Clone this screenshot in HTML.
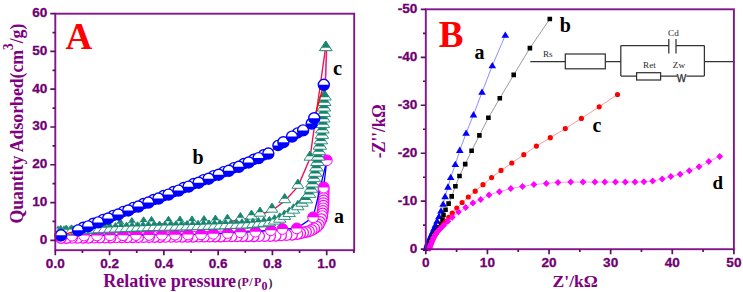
<!DOCTYPE html>
<html><head><meta charset="utf-8"><title>Figure</title>
<style>html,body{margin:0;padding:0;background:#fff;}body{width:743px;height:292px;overflow:hidden;font-family:"Liberation Sans",sans-serif;}svg{display:block;}</style>
</head><body>
<svg width="743" height="292" viewBox="0 0 743 292">
<rect width="743" height="292" fill="#fff"/>
<g id="data">
<path d="M505.3 35.2L492.3 65.7L482 92.2L473.5 114.8L466.1 133.2L459.8 150.3L455.3 164.5L450.7 177.5L448 187.1L445.1 196.6L443.1 204.2L441 211L439 216.5L437.1 221.12L435.42 225.19L433.94 228.77L432.63 231.92L431.42 234.66L430.35 237.07L429.42 239.2L428.66 241.1L427.99 242.76L427.45 244.25L427.14 245.61L426.88 246.8L426.64 247.85L426.5 248.5" stroke="#7070ff" stroke-width="0.8" fill="none"/>
<path d="M505.3 31.4l3.8 6.4h-7.6zM492.3 61.9l3.8 6.4h-7.6zM482 88.4l3.8 6.4h-7.6zM473.5 111l3.8 6.4h-7.6zM466.1 129.4l3.8 6.4h-7.6zM459.8 146.5l3.8 6.4h-7.6zM455.3 160.7l3.8 6.4h-7.6zM450.7 173.7l3.8 6.4h-7.6zM448 183.3l3.8 6.4h-7.6zM445.1 192.8l3.8 6.4h-7.6zM443.1 200.4l3.8 6.4h-7.6zM441 207.2l3.8 6.4h-7.6zM439 212.7l3.8 6.4h-7.6zM437.1 217.32l3.8 6.4h-7.6zM435.42 221.39l3.8 6.4h-7.6zM433.94 224.97l3.8 6.4h-7.6zM432.63 228.12l3.8 6.4h-7.6zM431.42 230.86l3.8 6.4h-7.6zM430.35 233.27l3.8 6.4h-7.6zM429.42 235.4l3.8 6.4h-7.6zM428.66 237.3l3.8 6.4h-7.6zM427.99 238.96l3.8 6.4h-7.6zM427.45 240.45l3.8 6.4h-7.6zM427.14 241.81l3.8 6.4h-7.6zM426.88 243l3.8 6.4h-7.6zM426.64 244.05l3.8 6.4h-7.6zM426.5 244.7l3.8 6.4h-7.6z" fill="#0000ff"/>
<path d="M549.8 19L529.9 48.1L513.7 74.9L499.8 98.2L488.4 117.8L479.4 135.4L471.6 150.8L465.2 164.1L459.5 176L455.4 186.3L451.7 196.4L448.6 203.6L445.5 209.7L443.5 215L442.52 219.9L441.06 223.98L438.97 227.24L436.99 230.01L435.24 232.44L433.88 234.7L432.71 236.71L431.87 238.57L431.13 240.21L430.53 241.67L430.01 242.97L429.56 244.11L429.23 245.13L428.99 246.05L428.78 246.86L428.59 247.57L428.43 248.19" stroke="#808080" stroke-width="0.8" fill="none"/>
<path d="M547.5 16.7h4.6v4.6h-4.6zM527.6 45.8h4.6v4.6h-4.6zM511.4 72.6h4.6v4.6h-4.6zM497.5 95.9h4.6v4.6h-4.6zM486.1 115.5h4.6v4.6h-4.6zM477.1 133.1h4.6v4.6h-4.6zM469.3 148.5h4.6v4.6h-4.6zM462.9 161.8h4.6v4.6h-4.6zM457.2 173.7h4.6v4.6h-4.6zM453.1 184h4.6v4.6h-4.6zM449.4 194.1h4.6v4.6h-4.6zM446.3 201.3h4.6v4.6h-4.6zM443.2 207.4h4.6v4.6h-4.6zM441.2 212.7h4.6v4.6h-4.6zM440.22 217.6h4.6v4.6h-4.6zM438.76 221.68h4.6v4.6h-4.6zM436.67 224.94h4.6v4.6h-4.6zM434.69 227.71h4.6v4.6h-4.6zM432.94 230.14h4.6v4.6h-4.6zM431.58 232.4h4.6v4.6h-4.6zM430.41 234.41h4.6v4.6h-4.6zM429.57 236.27h4.6v4.6h-4.6zM428.83 237.91h4.6v4.6h-4.6zM428.23 239.37h4.6v4.6h-4.6zM427.71 240.67h4.6v4.6h-4.6zM427.26 241.81h4.6v4.6h-4.6zM426.93 242.83h4.6v4.6h-4.6zM426.69 243.75h4.6v4.6h-4.6zM426.48 244.56h4.6v4.6h-4.6zM426.29 245.27h4.6v4.6h-4.6zM426.13 245.89h4.6v4.6h-4.6z" fill="#000000"/>
<path d="M617.5 94.5L599.2 106.8L581.4 118.4L565.3 128.6L550.3 137.7L536.4 146.1L523.8 154.7L511.8 163L501 170.4L491.6 177.6L483 184.7L475.2 191.2L468.3 197L462.1 202.5L456.8 208L452.3 213.1L448.77 217.44L445.7 221.3L443.02 224.71L440.64 227.7L438.54 230.32L436.79 232.7L435.29 234.82L434.16 236.8L433.28 238.61L432.51 240.21L431.9 241.65L431.37 242.91L430.9 244.02L430.52 245.02L430.22 245.9L429.95 246.68L429.72 247.37L429.51 247.97L429.4 248.3" stroke="#ff8080" stroke-width="0.8" fill="none"/>
<path d="M620.1 94.5a2.6 2.6 0 1 0 -5.2 0a2.6 2.6 0 1 0 5.2 0zM601.8 106.8a2.6 2.6 0 1 0 -5.2 0a2.6 2.6 0 1 0 5.2 0zM584 118.4a2.6 2.6 0 1 0 -5.2 0a2.6 2.6 0 1 0 5.2 0zM567.9 128.6a2.6 2.6 0 1 0 -5.2 0a2.6 2.6 0 1 0 5.2 0zM552.9 137.7a2.6 2.6 0 1 0 -5.2 0a2.6 2.6 0 1 0 5.2 0zM539 146.1a2.6 2.6 0 1 0 -5.2 0a2.6 2.6 0 1 0 5.2 0zM526.4 154.7a2.6 2.6 0 1 0 -5.2 0a2.6 2.6 0 1 0 5.2 0zM514.4 163a2.6 2.6 0 1 0 -5.2 0a2.6 2.6 0 1 0 5.2 0zM503.6 170.4a2.6 2.6 0 1 0 -5.2 0a2.6 2.6 0 1 0 5.2 0zM494.2 177.6a2.6 2.6 0 1 0 -5.2 0a2.6 2.6 0 1 0 5.2 0zM485.6 184.7a2.6 2.6 0 1 0 -5.2 0a2.6 2.6 0 1 0 5.2 0zM477.8 191.2a2.6 2.6 0 1 0 -5.2 0a2.6 2.6 0 1 0 5.2 0zM470.9 197a2.6 2.6 0 1 0 -5.2 0a2.6 2.6 0 1 0 5.2 0zM464.7 202.5a2.6 2.6 0 1 0 -5.2 0a2.6 2.6 0 1 0 5.2 0zM459.4 208a2.6 2.6 0 1 0 -5.2 0a2.6 2.6 0 1 0 5.2 0zM454.9 213.1a2.6 2.6 0 1 0 -5.2 0a2.6 2.6 0 1 0 5.2 0zM451.37 217.44a2.6 2.6 0 1 0 -5.2 0a2.6 2.6 0 1 0 5.2 0zM448.3 221.3a2.6 2.6 0 1 0 -5.2 0a2.6 2.6 0 1 0 5.2 0zM445.62 224.71a2.6 2.6 0 1 0 -5.2 0a2.6 2.6 0 1 0 5.2 0zM443.24 227.7a2.6 2.6 0 1 0 -5.2 0a2.6 2.6 0 1 0 5.2 0zM441.14 230.32a2.6 2.6 0 1 0 -5.2 0a2.6 2.6 0 1 0 5.2 0zM439.39 232.7a2.6 2.6 0 1 0 -5.2 0a2.6 2.6 0 1 0 5.2 0zM437.89 234.82a2.6 2.6 0 1 0 -5.2 0a2.6 2.6 0 1 0 5.2 0zM436.76 236.8a2.6 2.6 0 1 0 -5.2 0a2.6 2.6 0 1 0 5.2 0zM435.88 238.61a2.6 2.6 0 1 0 -5.2 0a2.6 2.6 0 1 0 5.2 0zM435.11 240.21a2.6 2.6 0 1 0 -5.2 0a2.6 2.6 0 1 0 5.2 0zM434.5 241.65a2.6 2.6 0 1 0 -5.2 0a2.6 2.6 0 1 0 5.2 0zM433.97 242.91a2.6 2.6 0 1 0 -5.2 0a2.6 2.6 0 1 0 5.2 0zM433.5 244.02a2.6 2.6 0 1 0 -5.2 0a2.6 2.6 0 1 0 5.2 0zM433.12 245.02a2.6 2.6 0 1 0 -5.2 0a2.6 2.6 0 1 0 5.2 0zM432.82 245.9a2.6 2.6 0 1 0 -5.2 0a2.6 2.6 0 1 0 5.2 0zM432.55 246.68a2.6 2.6 0 1 0 -5.2 0a2.6 2.6 0 1 0 5.2 0zM432.32 247.37a2.6 2.6 0 1 0 -5.2 0a2.6 2.6 0 1 0 5.2 0zM432.11 247.97a2.6 2.6 0 1 0 -5.2 0a2.6 2.6 0 1 0 5.2 0zM432 248.3a2.6 2.6 0 1 0 -5.2 0a2.6 2.6 0 1 0 5.2 0z" fill="#ff0000"/>
<path d="M719.7 156.4L708.8 161.6L699 166.7L689.3 170.8L680.1 174.3L670.8 176.6L662.2 179L652.7 181.1L643.9 181.8L635 182.1L625.3 182.1L615.5 182.1L604.8 182.1L594.9 182.1L583 182.1L570.7 182.1L558 182.4L546.3 183.4L533.9 184.6L522.5 186.4L510.8 188.6L499.4 191.7L489 195L480.7 199.4L472.9 202.9L465.7 207.6L458.5 212.1L452.3 217.3L447.83 221.31L443.95 225.05L440.52 228.5L437.46 231.62L435.12 234.77L433.42 237.86L432.17 240.8L431.05 243.44L430.14 245.85L429.38 248.05L429.3 248.3" stroke="#ff80ff" stroke-width="0.8" fill="none"/>
<path d="M719.7 152.9l3.4 3.5l-3.4 3.5l-3.4-3.5zM708.8 158.1l3.4 3.5l-3.4 3.5l-3.4-3.5zM699 163.2l3.4 3.5l-3.4 3.5l-3.4-3.5zM689.3 167.3l3.4 3.5l-3.4 3.5l-3.4-3.5zM680.1 170.8l3.4 3.5l-3.4 3.5l-3.4-3.5zM670.8 173.1l3.4 3.5l-3.4 3.5l-3.4-3.5zM662.2 175.5l3.4 3.5l-3.4 3.5l-3.4-3.5zM652.7 177.6l3.4 3.5l-3.4 3.5l-3.4-3.5zM643.9 178.3l3.4 3.5l-3.4 3.5l-3.4-3.5zM635 178.6l3.4 3.5l-3.4 3.5l-3.4-3.5zM625.3 178.6l3.4 3.5l-3.4 3.5l-3.4-3.5zM615.5 178.6l3.4 3.5l-3.4 3.5l-3.4-3.5zM604.8 178.6l3.4 3.5l-3.4 3.5l-3.4-3.5zM594.9 178.6l3.4 3.5l-3.4 3.5l-3.4-3.5zM583 178.6l3.4 3.5l-3.4 3.5l-3.4-3.5zM570.7 178.6l3.4 3.5l-3.4 3.5l-3.4-3.5zM558 178.9l3.4 3.5l-3.4 3.5l-3.4-3.5zM546.3 179.9l3.4 3.5l-3.4 3.5l-3.4-3.5zM533.9 181.1l3.4 3.5l-3.4 3.5l-3.4-3.5zM522.5 182.9l3.4 3.5l-3.4 3.5l-3.4-3.5zM510.8 185.1l3.4 3.5l-3.4 3.5l-3.4-3.5zM499.4 188.2l3.4 3.5l-3.4 3.5l-3.4-3.5zM489 191.5l3.4 3.5l-3.4 3.5l-3.4-3.5zM480.7 195.9l3.4 3.5l-3.4 3.5l-3.4-3.5zM472.9 199.4l3.4 3.5l-3.4 3.5l-3.4-3.5zM465.7 204.1l3.4 3.5l-3.4 3.5l-3.4-3.5zM458.5 208.6l3.4 3.5l-3.4 3.5l-3.4-3.5zM452.3 213.8l3.4 3.5l-3.4 3.5l-3.4-3.5zM447.83 217.81l3.4 3.5l-3.4 3.5l-3.4-3.5zM443.95 221.55l3.4 3.5l-3.4 3.5l-3.4-3.5zM440.52 225l3.4 3.5l-3.4 3.5l-3.4-3.5zM437.46 228.12l3.4 3.5l-3.4 3.5l-3.4-3.5zM435.12 231.27l3.4 3.5l-3.4 3.5l-3.4-3.5zM433.42 234.36l3.4 3.5l-3.4 3.5l-3.4-3.5zM432.17 237.3l3.4 3.5l-3.4 3.5l-3.4-3.5zM431.05 239.94l3.4 3.5l-3.4 3.5l-3.4-3.5zM430.14 242.35l3.4 3.5l-3.4 3.5l-3.4-3.5zM429.38 244.55l3.4 3.5l-3.4 3.5l-3.4-3.5zM429.3 244.8l3.4 3.5l-3.4 3.5l-3.4-3.5z" fill="#ff00ff"/>
<circle cx="323.6" cy="187.6" r="5.4" fill="#fff" stroke="#ff00ff" stroke-width="1.2"/>
<circle cx="323.57" cy="190.2" r="5.4" fill="#fff" stroke="#ff00ff" stroke-width="1.2"/>
<circle cx="323.54" cy="192.8" r="5.4" fill="#fff" stroke="#ff00ff" stroke-width="1.2"/>
<circle cx="323.51" cy="195.4" r="5.4" fill="#fff" stroke="#ff00ff" stroke-width="1.2"/>
<circle cx="323.48" cy="198" r="5.4" fill="#fff" stroke="#ff00ff" stroke-width="1.2"/>
<circle cx="323.45" cy="200.6" r="5.4" fill="#fff" stroke="#ff00ff" stroke-width="1.2"/>
<circle cx="323.42" cy="203.2" r="5.4" fill="#fff" stroke="#ff00ff" stroke-width="1.2"/>
<circle cx="323.31" cy="205.79" r="5.4" fill="#fff" stroke="#ff00ff" stroke-width="1.2"/>
<circle cx="323.04" cy="208.38" r="5.4" fill="#fff" stroke="#ff00ff" stroke-width="1.2"/>
<circle cx="322.76" cy="210.96" r="5.4" fill="#fff" stroke="#ff00ff" stroke-width="1.2"/>
<circle cx="322.48" cy="213.55" r="5.4" fill="#fff" stroke="#ff00ff" stroke-width="1.2"/>
<circle cx="322.2" cy="216.13" r="5.4" fill="#fff" stroke="#ff00ff" stroke-width="1.2"/>
<circle cx="321.33" cy="219.34" r="5.4" fill="#fff" stroke="#ff00ff" stroke-width="1.2"/>
<circle cx="319.99" cy="222.02" r="5.4" fill="#fff" stroke="#ff00ff" stroke-width="1.2"/>
<circle cx="318.65" cy="224.71" r="5.4" fill="#fff" stroke="#ff00ff" stroke-width="1.2"/>
<circle cx="316.68" cy="226.82" r="5.4" fill="#fff" stroke="#ff00ff" stroke-width="1.2"/>
<circle cx="314.14" cy="228.41" r="5.4" fill="#fff" stroke="#ff00ff" stroke-width="1.2"/>
<circle cx="311.59" cy="230" r="5.4" fill="#fff" stroke="#ff00ff" stroke-width="1.2"/>
<circle cx="308.91" cy="231.25" r="5.4" fill="#fff" stroke="#ff00ff" stroke-width="1.2"/>
<circle cx="305.99" cy="231.94" r="5.4" fill="#fff" stroke="#ff00ff" stroke-width="1.2"/>
<circle cx="303.06" cy="232.62" r="5.4" fill="#fff" stroke="#ff00ff" stroke-width="1.2"/>
<circle cx="300.14" cy="233.3" r="5.4" fill="#fff" stroke="#ff00ff" stroke-width="1.2"/>
<circle cx="297.22" cy="233.98" r="5.4" fill="#fff" stroke="#ff00ff" stroke-width="1.2"/>
<circle cx="292.01" cy="234.68" r="5.4" fill="#fff" stroke="#ff00ff" stroke-width="1.2"/>
<circle cx="286.52" cy="235.01" r="5.4" fill="#fff" stroke="#ff00ff" stroke-width="1.2"/>
<circle cx="281.03" cy="235.34" r="5.4" fill="#fff" stroke="#ff00ff" stroke-width="1.2"/>
<circle cx="275.54" cy="235.67" r="5.4" fill="#fff" stroke="#ff00ff" stroke-width="1.2"/>
<circle cx="270.04" cy="236" r="5.4" fill="#fff" stroke="#ff00ff" stroke-width="1.2"/>
<circle cx="264.55" cy="236.05" r="5.4" fill="#fff" stroke="#ff00ff" stroke-width="1.2"/>
<circle cx="259.05" cy="236.09" r="5.4" fill="#fff" stroke="#ff00ff" stroke-width="1.2"/>
<circle cx="253.55" cy="236.14" r="5.4" fill="#fff" stroke="#ff00ff" stroke-width="1.2"/>
<circle cx="248.05" cy="236.18" r="5.4" fill="#fff" stroke="#ff00ff" stroke-width="1.2"/>
<circle cx="242.55" cy="236.23" r="5.4" fill="#fff" stroke="#ff00ff" stroke-width="1.2"/>
<circle cx="237.05" cy="236.27" r="5.4" fill="#fff" stroke="#ff00ff" stroke-width="1.2"/>
<circle cx="231.55" cy="236.32" r="5.4" fill="#fff" stroke="#ff00ff" stroke-width="1.2"/>
<circle cx="226.05" cy="236.37" r="5.4" fill="#fff" stroke="#ff00ff" stroke-width="1.2"/>
<circle cx="220.55" cy="236.41" r="5.4" fill="#fff" stroke="#ff00ff" stroke-width="1.2"/>
<circle cx="215.05" cy="236.46" r="5.4" fill="#fff" stroke="#ff00ff" stroke-width="1.2"/>
<circle cx="209.55" cy="236.5" r="5.4" fill="#fff" stroke="#ff00ff" stroke-width="1.2"/>
<circle cx="204.05" cy="236.55" r="5.4" fill="#fff" stroke="#ff00ff" stroke-width="1.2"/>
<circle cx="198.55" cy="236.6" r="5.4" fill="#fff" stroke="#ff00ff" stroke-width="1.2"/>
<circle cx="193.05" cy="236.64" r="5.4" fill="#fff" stroke="#ff00ff" stroke-width="1.2"/>
<circle cx="187.55" cy="236.69" r="5.4" fill="#fff" stroke="#ff00ff" stroke-width="1.2"/>
<circle cx="182.05" cy="236.73" r="5.4" fill="#fff" stroke="#ff00ff" stroke-width="1.2"/>
<circle cx="176.55" cy="236.78" r="5.4" fill="#fff" stroke="#ff00ff" stroke-width="1.2"/>
<circle cx="171.05" cy="236.82" r="5.4" fill="#fff" stroke="#ff00ff" stroke-width="1.2"/>
<circle cx="165.55" cy="236.87" r="5.4" fill="#fff" stroke="#ff00ff" stroke-width="1.2"/>
<circle cx="160.05" cy="236.92" r="5.4" fill="#fff" stroke="#ff00ff" stroke-width="1.2"/>
<circle cx="154.55" cy="236.96" r="5.4" fill="#fff" stroke="#ff00ff" stroke-width="1.2"/>
<circle cx="149.05" cy="237.01" r="5.4" fill="#fff" stroke="#ff00ff" stroke-width="1.2"/>
<circle cx="143.55" cy="237.07" r="5.4" fill="#fff" stroke="#ff00ff" stroke-width="1.2"/>
<circle cx="138.05" cy="237.13" r="5.4" fill="#fff" stroke="#ff00ff" stroke-width="1.2"/>
<circle cx="132.55" cy="237.19" r="5.4" fill="#fff" stroke="#ff00ff" stroke-width="1.2"/>
<circle cx="127.05" cy="237.25" r="5.4" fill="#fff" stroke="#ff00ff" stroke-width="1.2"/>
<circle cx="121.55" cy="237.31" r="5.4" fill="#fff" stroke="#ff00ff" stroke-width="1.2"/>
<circle cx="116.05" cy="237.37" r="5.4" fill="#fff" stroke="#ff00ff" stroke-width="1.2"/>
<circle cx="110.55" cy="237.43" r="5.4" fill="#fff" stroke="#ff00ff" stroke-width="1.2"/>
<circle cx="105.05" cy="237.49" r="5.4" fill="#fff" stroke="#ff00ff" stroke-width="1.2"/>
<circle cx="99.55" cy="237.55" r="5.4" fill="#fff" stroke="#ff00ff" stroke-width="1.2"/>
<circle cx="94.05" cy="237.61" r="5.4" fill="#fff" stroke="#ff00ff" stroke-width="1.2"/>
<circle cx="88.55" cy="237.67" r="5.4" fill="#fff" stroke="#ff00ff" stroke-width="1.2"/>
<circle cx="83.05" cy="237.73" r="5.4" fill="#fff" stroke="#ff00ff" stroke-width="1.2"/>
<circle cx="77.55" cy="237.79" r="5.4" fill="#fff" stroke="#ff00ff" stroke-width="1.2"/>
<circle cx="72.05" cy="237.85" r="5.4" fill="#fff" stroke="#ff00ff" stroke-width="1.2"/>
<circle cx="66.55" cy="237.91" r="5.4" fill="#fff" stroke="#ff00ff" stroke-width="1.2"/>
<circle cx="61.05" cy="237.97" r="5.4" fill="#fff" stroke="#ff00ff" stroke-width="1.2"/>
<path d="M326.8 160.3L323.6 187.6" stroke="#0000ff" stroke-width="1.3" fill="none"/>
<path d="M60 235.8L72 235.68L84 235.56L97 235.43L110 235.3L123 235.17L136 235.04L149 234.91L162 234.78L175 234.65L188 234.52L201 234.35L213.3 233.74L227.7 233.02L240.6 232.37L255.4 231.63L270.8 230.21L282.4 228.94L296.8 228.4L313.1 217.3L326.8 160.3" stroke="#0000ff" stroke-width="1.3" fill="none"/>
<circle cx="60" cy="235.8" r="5.4" fill="#fff" stroke="#ff00ff" stroke-width="1"/>
<path d="M54.6 235.8a5.4 5.4 0 0 1 10.8 0z" fill="#ff00ff"/>
<circle cx="72" cy="235.68" r="5.4" fill="#fff" stroke="#ff00ff" stroke-width="1"/>
<path d="M66.6 235.68a5.4 5.4 0 0 1 10.8 0z" fill="#ff00ff"/>
<circle cx="84" cy="235.56" r="5.4" fill="#fff" stroke="#ff00ff" stroke-width="1"/>
<path d="M78.6 235.56a5.4 5.4 0 0 1 10.8 0z" fill="#ff00ff"/>
<circle cx="97" cy="235.43" r="5.4" fill="#fff" stroke="#ff00ff" stroke-width="1"/>
<path d="M91.6 235.43a5.4 5.4 0 0 1 10.8 0z" fill="#ff00ff"/>
<circle cx="110" cy="235.3" r="5.4" fill="#fff" stroke="#ff00ff" stroke-width="1"/>
<path d="M104.6 235.3a5.4 5.4 0 0 1 10.8 0z" fill="#ff00ff"/>
<circle cx="123" cy="235.17" r="5.4" fill="#fff" stroke="#ff00ff" stroke-width="1"/>
<path d="M117.6 235.17a5.4 5.4 0 0 1 10.8 0z" fill="#ff00ff"/>
<circle cx="136" cy="235.04" r="5.4" fill="#fff" stroke="#ff00ff" stroke-width="1"/>
<path d="M130.6 235.04a5.4 5.4 0 0 1 10.8 0z" fill="#ff00ff"/>
<circle cx="149" cy="234.91" r="5.4" fill="#fff" stroke="#ff00ff" stroke-width="1"/>
<path d="M143.6 234.91a5.4 5.4 0 0 1 10.8 0z" fill="#ff00ff"/>
<circle cx="162" cy="234.78" r="5.4" fill="#fff" stroke="#ff00ff" stroke-width="1"/>
<path d="M156.6 234.78a5.4 5.4 0 0 1 10.8 0z" fill="#ff00ff"/>
<circle cx="175" cy="234.65" r="5.4" fill="#fff" stroke="#ff00ff" stroke-width="1"/>
<path d="M169.6 234.65a5.4 5.4 0 0 1 10.8 0z" fill="#ff00ff"/>
<circle cx="188" cy="234.52" r="5.4" fill="#fff" stroke="#ff00ff" stroke-width="1"/>
<path d="M182.6 234.52a5.4 5.4 0 0 1 10.8 0z" fill="#ff00ff"/>
<circle cx="201" cy="234.35" r="5.4" fill="#fff" stroke="#ff00ff" stroke-width="1"/>
<path d="M195.6 234.35a5.4 5.4 0 0 1 10.8 0z" fill="#ff00ff"/>
<circle cx="213.3" cy="233.74" r="5.4" fill="#fff" stroke="#ff00ff" stroke-width="1"/>
<path d="M207.9 233.74a5.4 5.4 0 0 1 10.8 0z" fill="#ff00ff"/>
<circle cx="227.7" cy="233.02" r="5.4" fill="#fff" stroke="#ff00ff" stroke-width="1"/>
<path d="M222.3 233.02a5.4 5.4 0 0 1 10.8 0z" fill="#ff00ff"/>
<circle cx="240.6" cy="232.37" r="5.4" fill="#fff" stroke="#ff00ff" stroke-width="1"/>
<path d="M235.2 232.37a5.4 5.4 0 0 1 10.8 0z" fill="#ff00ff"/>
<circle cx="255.4" cy="231.63" r="5.4" fill="#fff" stroke="#ff00ff" stroke-width="1"/>
<path d="M250 231.63a5.4 5.4 0 0 1 10.8 0z" fill="#ff00ff"/>
<circle cx="270.8" cy="230.21" r="5.4" fill="#fff" stroke="#ff00ff" stroke-width="1"/>
<path d="M265.4 230.21a5.4 5.4 0 0 1 10.8 0z" fill="#ff00ff"/>
<circle cx="282.4" cy="228.94" r="5.4" fill="#fff" stroke="#ff00ff" stroke-width="1"/>
<path d="M277 228.94a5.4 5.4 0 0 1 10.8 0z" fill="#ff00ff"/>
<circle cx="296.8" cy="228.4" r="5.4" fill="#fff" stroke="#ff00ff" stroke-width="1"/>
<path d="M291.4 228.4a5.4 5.4 0 0 1 10.8 0z" fill="#ff00ff"/>
<circle cx="313.1" cy="217.3" r="5.4" fill="#fff" stroke="#ff00ff" stroke-width="1"/>
<path d="M307.7 217.3a5.4 5.4 0 0 1 10.8 0z" fill="#ff00ff"/>
<circle cx="326.8" cy="160.3" r="5.4" fill="#fff" stroke="#ff00ff" stroke-width="1"/>
<path d="M321.4 160.3a5.4 5.4 0 0 1 10.8 0z" fill="#ff00ff"/>
<circle cx="323.6" cy="187.6" r="5.4" fill="#fff" stroke="#ff00ff" stroke-width="1"/>
<path d="M318.2 187.6a5.4 5.4 0 0 1 10.8 0z" fill="#ff00ff"/>
<path d="M58 233.5L61 233.5L64 233.5L67 233.5L70 233.5L73 233.5L106.5 227.8L120.3 226.1L131.9 225.1L143.6 224.3L151.5 223.9L168.5 223.7L180 223.5L192 223.4L204 223.1L215.4 222.5L227.4 221.7L240.4 220L251.5 217.5L260 214.5L272 210.5L284.7 201L297.9 186.6L309.9 158.5L325.8 46" stroke="#ee1058" stroke-width="1.4" fill="none"/>
<path d="M326.6 48L325 95" stroke="#e8207e" stroke-width="1.6" fill="none"/>
<path d="M58 225.3l1.8 3.2h-3.6z" fill="#17846f"/>
<path d="M61 225.3l1.8 3.2h-3.6z" fill="#17846f"/>
<path d="M64 225.3l1.8 3.2h-3.6z" fill="#17846f"/>
<path d="M67 225.3l1.8 3.2h-3.6z" fill="#17846f"/>
<path d="M70 225.3l1.8 3.2h-3.6z" fill="#17846f"/>
<path d="M73 225.3l1.8 3.2h-3.6z" fill="#17846f"/>
<path d="M106.5 220.3l5.9 9.2h-11.8z" fill="#fff" stroke="#17846f" stroke-width="0.9"/>
<path d="M106.5 220.3l3.3 5.15h-6.61z" fill="#17846f"/>
<path d="M120.3 218.6l5.9 9.2h-11.8z" fill="#fff" stroke="#17846f" stroke-width="0.9"/>
<path d="M120.3 218.6l3.3 5.15h-6.61z" fill="#17846f"/>
<path d="M131.9 217.6l5.9 9.2h-11.8z" fill="#fff" stroke="#17846f" stroke-width="0.9"/>
<path d="M131.9 217.6l3.3 5.15h-6.61z" fill="#17846f"/>
<path d="M143.6 216.8l5.9 9.2h-11.8z" fill="#fff" stroke="#17846f" stroke-width="0.9"/>
<path d="M143.6 216.8l3.3 5.15h-6.61z" fill="#17846f"/>
<path d="M151.5 216.4l5.9 9.2h-11.8z" fill="#fff" stroke="#17846f" stroke-width="0.9"/>
<path d="M151.5 216.4l3.3 5.15h-6.61z" fill="#17846f"/>
<path d="M168.5 216.2l5.9 9.2h-11.8z" fill="#fff" stroke="#17846f" stroke-width="0.9"/>
<path d="M168.5 216.2l3.3 5.15h-6.61z" fill="#17846f"/>
<path d="M180 216l5.9 9.2h-11.8z" fill="#fff" stroke="#17846f" stroke-width="0.9"/>
<path d="M180 216l3.3 5.15h-6.61z" fill="#17846f"/>
<path d="M192 215.9l5.9 9.2h-11.8z" fill="#fff" stroke="#17846f" stroke-width="0.9"/>
<path d="M192 215.9l3.3 5.15h-6.61z" fill="#17846f"/>
<path d="M204 215.6l5.9 9.2h-11.8z" fill="#fff" stroke="#17846f" stroke-width="0.9"/>
<path d="M204 215.6l3.3 5.15h-6.61z" fill="#17846f"/>
<path d="M215.4 215l5.9 9.2h-11.8z" fill="#fff" stroke="#17846f" stroke-width="0.9"/>
<path d="M215.4 215l3.3 5.15h-6.61z" fill="#17846f"/>
<path d="M227.4 214.2l5.9 9.2h-11.8z" fill="#fff" stroke="#17846f" stroke-width="0.9"/>
<path d="M227.4 214.2l3.3 5.15h-6.61z" fill="#17846f"/>
<path d="M240.4 212.5l5.9 9.2h-11.8z" fill="#fff" stroke="#17846f" stroke-width="0.9"/>
<path d="M240.4 212.5l3.3 5.15h-6.61z" fill="#17846f"/>
<path d="M251.5 210l5.9 9.2h-11.8z" fill="#fff" stroke="#17846f" stroke-width="0.9"/>
<path d="M251.5 210l3.3 5.15h-6.61z" fill="#17846f"/>
<path d="M260 207l5.9 9.2h-11.8z" fill="#fff" stroke="#17846f" stroke-width="0.9"/>
<path d="M260 207l3.3 5.15h-6.61z" fill="#17846f"/>
<path d="M272 203l5.9 9.2h-11.8z" fill="#fff" stroke="#17846f" stroke-width="0.9"/>
<path d="M272 203l3.3 5.15h-6.61z" fill="#17846f"/>
<path d="M284.7 193.5l5.9 9.2h-11.8z" fill="#fff" stroke="#17846f" stroke-width="0.9"/>
<path d="M284.7 193.5l3.3 5.15h-6.61z" fill="#17846f"/>
<path d="M297.9 179.1l5.9 9.2h-11.8z" fill="#fff" stroke="#17846f" stroke-width="0.9"/>
<path d="M297.9 179.1l3.3 5.15h-6.61z" fill="#17846f"/>
<path d="M309.9 151l5.9 9.2h-11.8z" fill="#fff" stroke="#17846f" stroke-width="0.9"/>
<path d="M309.9 151l3.3 5.15h-6.61z" fill="#17846f"/>
<path d="M60.62 225.46l6.2 9.4h-12.4z" fill="#fff" stroke="#17846f" stroke-width="0.9"/>
<path d="M60.62 225.46l3.1 4.7h-6.2z" fill="#17846f"/>
<path d="M66.11 225.15l6.2 9.4h-12.4z" fill="#fff" stroke="#17846f" stroke-width="0.9"/>
<path d="M66.11 225.15l3.1 4.7h-6.2z" fill="#17846f"/>
<path d="M71.6 224.83l6.2 9.4h-12.4z" fill="#fff" stroke="#17846f" stroke-width="0.9"/>
<path d="M71.6 224.83l3.1 4.7h-6.2z" fill="#17846f"/>
<path d="M77.09 224.52l6.2 9.4h-12.4z" fill="#fff" stroke="#17846f" stroke-width="0.9"/>
<path d="M77.09 224.52l3.1 4.7h-6.2z" fill="#17846f"/>
<path d="M82.58 224.2l6.2 9.4h-12.4z" fill="#fff" stroke="#17846f" stroke-width="0.9"/>
<path d="M82.58 224.2l3.1 4.7h-6.2z" fill="#17846f"/>
<path d="M88.07 223.89l6.2 9.4h-12.4z" fill="#fff" stroke="#17846f" stroke-width="0.9"/>
<path d="M88.07 223.89l3.1 4.7h-6.2z" fill="#17846f"/>
<path d="M93.56 223.57l6.2 9.4h-12.4z" fill="#fff" stroke="#17846f" stroke-width="0.9"/>
<path d="M93.56 223.57l3.1 4.7h-6.2z" fill="#17846f"/>
<path d="M99.06 223.25l6.2 9.4h-12.4z" fill="#fff" stroke="#17846f" stroke-width="0.9"/>
<path d="M99.06 223.25l3.1 4.7h-6.2z" fill="#17846f"/>
<path d="M104.55 223.02l6.2 9.4h-12.4z" fill="#fff" stroke="#17846f" stroke-width="0.9"/>
<path d="M104.55 223.02l3.1 4.7h-6.2z" fill="#17846f"/>
<path d="M110.05 222.8l6.2 9.4h-12.4z" fill="#fff" stroke="#17846f" stroke-width="0.9"/>
<path d="M110.05 222.8l3.1 4.7h-6.2z" fill="#17846f"/>
<path d="M115.54 222.58l6.2 9.4h-12.4z" fill="#fff" stroke="#17846f" stroke-width="0.9"/>
<path d="M115.54 222.58l3.1 4.7h-6.2z" fill="#17846f"/>
<path d="M121.04 222.36l6.2 9.4h-12.4z" fill="#fff" stroke="#17846f" stroke-width="0.9"/>
<path d="M121.04 222.36l3.1 4.7h-6.2z" fill="#17846f"/>
<path d="M126.53 222.14l6.2 9.4h-12.4z" fill="#fff" stroke="#17846f" stroke-width="0.9"/>
<path d="M126.53 222.14l3.1 4.7h-6.2z" fill="#17846f"/>
<path d="M132.03 221.92l6.2 9.4h-12.4z" fill="#fff" stroke="#17846f" stroke-width="0.9"/>
<path d="M132.03 221.92l3.1 4.7h-6.2z" fill="#17846f"/>
<path d="M137.52 221.7l6.2 9.4h-12.4z" fill="#fff" stroke="#17846f" stroke-width="0.9"/>
<path d="M137.52 221.7l3.1 4.7h-6.2z" fill="#17846f"/>
<path d="M143.02 221.48l6.2 9.4h-12.4z" fill="#fff" stroke="#17846f" stroke-width="0.9"/>
<path d="M143.02 221.48l3.1 4.7h-6.2z" fill="#17846f"/>
<path d="M148.52 221.26l6.2 9.4h-12.4z" fill="#fff" stroke="#17846f" stroke-width="0.9"/>
<path d="M148.52 221.26l3.1 4.7h-6.2z" fill="#17846f"/>
<path d="M154.01 221.12l6.2 9.4h-12.4z" fill="#fff" stroke="#17846f" stroke-width="0.9"/>
<path d="M154.01 221.12l3.1 4.7h-6.2z" fill="#17846f"/>
<path d="M159.51 221.01l6.2 9.4h-12.4z" fill="#fff" stroke="#17846f" stroke-width="0.9"/>
<path d="M159.51 221.01l3.1 4.7h-6.2z" fill="#17846f"/>
<path d="M165.01 220.9l6.2 9.4h-12.4z" fill="#fff" stroke="#17846f" stroke-width="0.9"/>
<path d="M165.01 220.9l3.1 4.7h-6.2z" fill="#17846f"/>
<path d="M170.51 220.79l6.2 9.4h-12.4z" fill="#fff" stroke="#17846f" stroke-width="0.9"/>
<path d="M170.51 220.79l3.1 4.7h-6.2z" fill="#17846f"/>
<path d="M176.01 220.68l6.2 9.4h-12.4z" fill="#fff" stroke="#17846f" stroke-width="0.9"/>
<path d="M176.01 220.68l3.1 4.7h-6.2z" fill="#17846f"/>
<path d="M181.51 220.57l6.2 9.4h-12.4z" fill="#fff" stroke="#17846f" stroke-width="0.9"/>
<path d="M181.51 220.57l3.1 4.7h-6.2z" fill="#17846f"/>
<path d="M187.01 220.46l6.2 9.4h-12.4z" fill="#fff" stroke="#17846f" stroke-width="0.9"/>
<path d="M187.01 220.46l3.1 4.7h-6.2z" fill="#17846f"/>
<path d="M192.51 220.35l6.2 9.4h-12.4z" fill="#fff" stroke="#17846f" stroke-width="0.9"/>
<path d="M192.51 220.35l3.1 4.7h-6.2z" fill="#17846f"/>
<path d="M198 220.24l6.2 9.4h-12.4z" fill="#fff" stroke="#17846f" stroke-width="0.9"/>
<path d="M198 220.24l3.1 4.7h-6.2z" fill="#17846f"/>
<path d="M203.5 220.08l6.2 9.4h-12.4z" fill="#fff" stroke="#17846f" stroke-width="0.9"/>
<path d="M203.5 220.08l3.1 4.7h-6.2z" fill="#17846f"/>
<path d="M209 219.89l6.2 9.4h-12.4z" fill="#fff" stroke="#17846f" stroke-width="0.9"/>
<path d="M209 219.89l3.1 4.7h-6.2z" fill="#17846f"/>
<path d="M214.5 219.71l6.2 9.4h-12.4z" fill="#fff" stroke="#17846f" stroke-width="0.9"/>
<path d="M214.5 219.71l3.1 4.7h-6.2z" fill="#17846f"/>
<path d="M219.99 219.52l6.2 9.4h-12.4z" fill="#fff" stroke="#17846f" stroke-width="0.9"/>
<path d="M219.99 219.52l3.1 4.7h-6.2z" fill="#17846f"/>
<path d="M225.49 219.33l6.2 9.4h-12.4z" fill="#fff" stroke="#17846f" stroke-width="0.9"/>
<path d="M225.49 219.33l3.1 4.7h-6.2z" fill="#17846f"/>
<path d="M230.99 219.15l6.2 9.4h-12.4z" fill="#fff" stroke="#17846f" stroke-width="0.9"/>
<path d="M230.99 219.15l3.1 4.7h-6.2z" fill="#17846f"/>
<path d="M236.48 218.96l6.2 9.4h-12.4z" fill="#fff" stroke="#17846f" stroke-width="0.9"/>
<path d="M236.48 218.96l3.1 4.7h-6.2z" fill="#17846f"/>
<path d="M241.98 218.77l6.2 9.4h-12.4z" fill="#fff" stroke="#17846f" stroke-width="0.9"/>
<path d="M241.98 218.77l3.1 4.7h-6.2z" fill="#17846f"/>
<path d="M247.48 218.59l6.2 9.4h-12.4z" fill="#fff" stroke="#17846f" stroke-width="0.9"/>
<path d="M247.48 218.59l3.1 4.7h-6.2z" fill="#17846f"/>
<path d="M252.96 218.17l6.2 9.4h-12.4z" fill="#fff" stroke="#17846f" stroke-width="0.9"/>
<path d="M252.96 218.17l3.1 4.7h-6.2z" fill="#17846f"/>
<path d="M258.42 217.57l6.2 9.4h-12.4z" fill="#fff" stroke="#17846f" stroke-width="0.9"/>
<path d="M258.42 217.57l3.1 4.7h-6.2z" fill="#17846f"/>
<path d="M263.89 216.97l6.2 9.4h-12.4z" fill="#fff" stroke="#17846f" stroke-width="0.9"/>
<path d="M263.89 216.97l3.1 4.7h-6.2z" fill="#17846f"/>
<path d="M269.36 216.37l6.2 9.4h-12.4z" fill="#fff" stroke="#17846f" stroke-width="0.9"/>
<path d="M269.36 216.37l3.1 4.7h-6.2z" fill="#17846f"/>
<path d="M274.58 214.69l6.2 9.4h-12.4z" fill="#fff" stroke="#17846f" stroke-width="0.9"/>
<path d="M274.58 214.69l3.1 4.7h-6.2z" fill="#17846f"/>
<path d="M279.74 212.8l6.2 9.4h-12.4z" fill="#fff" stroke="#17846f" stroke-width="0.9"/>
<path d="M279.74 212.8l3.1 4.7h-6.2z" fill="#17846f"/>
<path d="M284.49 210.02l6.2 9.4h-12.4z" fill="#fff" stroke="#17846f" stroke-width="0.9"/>
<path d="M284.49 210.02l3.1 4.7h-6.2z" fill="#17846f"/>
<path d="M289.19 207.19l6.2 9.4h-12.4z" fill="#fff" stroke="#17846f" stroke-width="0.9"/>
<path d="M289.19 207.19l3.1 4.7h-6.2z" fill="#17846f"/>
<path d="M293.51 203.78l6.2 9.4h-12.4z" fill="#fff" stroke="#17846f" stroke-width="0.9"/>
<path d="M293.51 203.78l3.1 4.7h-6.2z" fill="#17846f"/>
<path d="M297.81 200.35l6.2 9.4h-12.4z" fill="#fff" stroke="#17846f" stroke-width="0.9"/>
<path d="M297.81 200.35l3.1 4.7h-6.2z" fill="#17846f"/>
<path d="M302.02 196.82l6.2 9.4h-12.4z" fill="#fff" stroke="#17846f" stroke-width="0.9"/>
<path d="M302.02 196.82l4.46 6.77h-8.93z" fill="#17846f"/>
<path d="M305.83 192.86l6.8 10h-13.6z" fill="#fff" stroke="#17846f" stroke-width="0.9"/>
<path d="M305.83 192.86l4.9 7.2h-9.79z" fill="#17846f"/>
<path d="M309.07 187.39l6.8 10h-13.6z" fill="#fff" stroke="#17846f" stroke-width="0.9"/>
<path d="M309.07 187.39l4.9 7.2h-9.79z" fill="#17846f"/>
<path d="M311.01 182.26l6.8 10h-13.6z" fill="#fff" stroke="#17846f" stroke-width="0.9"/>
<path d="M311.01 182.26l4.9 7.2h-9.79z" fill="#17846f"/>
<path d="M312.46 176.95l6.8 10h-13.6z" fill="#fff" stroke="#17846f" stroke-width="0.9"/>
<path d="M312.46 176.95l4.9 7.2h-9.79z" fill="#17846f"/>
<path d="M313.87 171.64l6.8 10h-13.6z" fill="#fff" stroke="#17846f" stroke-width="0.9"/>
<path d="M313.87 171.64l4.9 7.2h-9.79z" fill="#17846f"/>
<path d="M315.12 166.28l6.8 10h-13.6z" fill="#fff" stroke="#17846f" stroke-width="0.9"/>
<path d="M315.12 166.28l4.9 7.2h-9.79z" fill="#17846f"/>
<path d="M316.37 160.93l6.8 10h-13.6z" fill="#fff" stroke="#17846f" stroke-width="0.9"/>
<path d="M316.37 160.93l4.9 7.2h-9.79z" fill="#17846f"/>
<path d="M317.31 155.51l6.8 10h-13.6z" fill="#fff" stroke="#17846f" stroke-width="0.9"/>
<path d="M317.31 155.51l4.9 7.2h-9.79z" fill="#17846f"/>
<path d="M318.15 150.08l6.8 10h-13.6z" fill="#fff" stroke="#17846f" stroke-width="0.9"/>
<path d="M318.15 150.08l4.9 7.2h-9.79z" fill="#17846f"/>
<path d="M318.99 144.64l6.8 10h-13.6z" fill="#fff" stroke="#17846f" stroke-width="0.9"/>
<path d="M318.99 144.64l4.9 7.2h-9.79z" fill="#17846f"/>
<path d="M319.85 139.21l6.8 10h-13.6z" fill="#fff" stroke="#17846f" stroke-width="0.9"/>
<path d="M319.85 139.21l4.9 7.2h-9.79z" fill="#17846f"/>
<path d="M320.89 133.81l6.8 10h-13.6z" fill="#fff" stroke="#17846f" stroke-width="0.9"/>
<path d="M320.89 133.81l4.9 7.2h-9.79z" fill="#17846f"/>
<path d="M321.92 128.41l6.8 10h-13.6z" fill="#fff" stroke="#17846f" stroke-width="0.9"/>
<path d="M321.92 128.41l4.9 7.2h-9.79z" fill="#17846f"/>
<path d="M322.42 122.93l6.8 10h-13.6z" fill="#fff" stroke="#17846f" stroke-width="0.9"/>
<path d="M322.42 122.93l4.9 7.2h-9.79z" fill="#17846f"/>
<path d="M322.88 117.45l6.8 10h-13.6z" fill="#fff" stroke="#17846f" stroke-width="0.9"/>
<path d="M322.88 117.45l4.9 7.2h-9.79z" fill="#17846f"/>
<path d="M323.34 111.97l6.8 10h-13.6z" fill="#fff" stroke="#17846f" stroke-width="0.9"/>
<path d="M323.34 111.97l4.9 7.2h-9.79z" fill="#17846f"/>
<path d="M323.68 106.48l6.8 10h-13.6z" fill="#fff" stroke="#17846f" stroke-width="0.9"/>
<path d="M323.68 106.48l4.9 7.2h-9.79z" fill="#17846f"/>
<path d="M323.95 100.99l6.8 10h-13.6z" fill="#fff" stroke="#17846f" stroke-width="0.9"/>
<path d="M323.95 100.99l4.9 7.2h-9.79z" fill="#17846f"/>
<path d="M324.23 95.49l6.8 10h-13.6z" fill="#fff" stroke="#17846f" stroke-width="0.9"/>
<path d="M324.23 95.49l4.9 7.2h-9.79z" fill="#17846f"/>
<path d="M324.5 90l6.8 10h-13.6z" fill="#fff" stroke="#17846f" stroke-width="0.9"/>
<path d="M324.5 90l4.9 7.2h-9.79z" fill="#17846f"/>
<path d="M325.8 41l6.3 9.7h-12.6z" fill="#fff" stroke="#17846f" stroke-width="1"/>
<path d="M325.8 41l4.4 6.8h-8.8z" fill="#17846f"/>
<path d="M61 235.3L78.09 230.35L88.14 226.39L98.18 222.41L108.22 218.44L118.27 214.47L128.31 210.49L138.35 206.52L148.39 202.55L158.44 198.57L168.48 194.6L178.52 190.62L188.56 186.65L198.61 182.68L208.65 178.7L218.69 174.73L228.73 170.76L238.78 166.78L248.68 162.47L258.56 158.12L268.35 153.55L283.4 142.2L292 136.6L303.1 130.4L311.7 123.6L314.2 118.2L323.8 84.8" stroke="#ff0000" stroke-width="1.3" fill="none"/>
<circle cx="83.12" cy="227.37" r="5.1" fill="#fff" stroke="#0000ff" stroke-width="1.4"/><path d="M78.02 227.37a5.1 5.1 0 0 0 10.2 0z" fill="#0000ff"/>
<circle cx="93.16" cy="223.4" r="5.1" fill="#fff" stroke="#0000ff" stroke-width="1.4"/><path d="M88.06 223.4a5.1 5.1 0 0 0 10.2 0z" fill="#0000ff"/>
<circle cx="103.2" cy="219.43" r="5.1" fill="#fff" stroke="#0000ff" stroke-width="1.4"/><path d="M98.1 219.43a5.1 5.1 0 0 0 10.2 0z" fill="#0000ff"/>
<circle cx="113.25" cy="215.45" r="5.1" fill="#fff" stroke="#0000ff" stroke-width="1.4"/><path d="M108.15 215.45a5.1 5.1 0 0 0 10.2 0z" fill="#0000ff"/>
<circle cx="123.29" cy="211.48" r="5.1" fill="#fff" stroke="#0000ff" stroke-width="1.4"/><path d="M118.19 211.48a5.1 5.1 0 0 0 10.2 0z" fill="#0000ff"/>
<circle cx="133.33" cy="207.51" r="5.1" fill="#fff" stroke="#0000ff" stroke-width="1.4"/><path d="M128.23 207.51a5.1 5.1 0 0 0 10.2 0z" fill="#0000ff"/>
<circle cx="143.37" cy="203.53" r="5.1" fill="#fff" stroke="#0000ff" stroke-width="1.4"/><path d="M138.27 203.53a5.1 5.1 0 0 0 10.2 0z" fill="#0000ff"/>
<circle cx="153.42" cy="199.56" r="5.1" fill="#fff" stroke="#0000ff" stroke-width="1.4"/><path d="M148.32 199.56a5.1 5.1 0 0 0 10.2 0z" fill="#0000ff"/>
<circle cx="163.46" cy="195.59" r="5.1" fill="#fff" stroke="#0000ff" stroke-width="1.4"/><path d="M158.36 195.59a5.1 5.1 0 0 0 10.2 0z" fill="#0000ff"/>
<circle cx="173.5" cy="191.61" r="5.1" fill="#fff" stroke="#0000ff" stroke-width="1.4"/><path d="M168.4 191.61a5.1 5.1 0 0 0 10.2 0z" fill="#0000ff"/>
<circle cx="183.54" cy="187.64" r="5.1" fill="#fff" stroke="#0000ff" stroke-width="1.4"/><path d="M178.44 187.64a5.1 5.1 0 0 0 10.2 0z" fill="#0000ff"/>
<circle cx="193.59" cy="183.66" r="5.1" fill="#fff" stroke="#0000ff" stroke-width="1.4"/><path d="M188.49 183.66a5.1 5.1 0 0 0 10.2 0z" fill="#0000ff"/>
<circle cx="203.63" cy="179.69" r="5.1" fill="#fff" stroke="#0000ff" stroke-width="1.4"/><path d="M198.53 179.69a5.1 5.1 0 0 0 10.2 0z" fill="#0000ff"/>
<circle cx="213.67" cy="175.72" r="5.1" fill="#fff" stroke="#0000ff" stroke-width="1.4"/><path d="M208.57 175.72a5.1 5.1 0 0 0 10.2 0z" fill="#0000ff"/>
<circle cx="223.71" cy="171.74" r="5.1" fill="#fff" stroke="#0000ff" stroke-width="1.4"/><path d="M218.61 171.74a5.1 5.1 0 0 0 10.2 0z" fill="#0000ff"/>
<circle cx="233.76" cy="167.77" r="5.1" fill="#fff" stroke="#0000ff" stroke-width="1.4"/><path d="M228.66 167.77a5.1 5.1 0 0 0 10.2 0z" fill="#0000ff"/>
<circle cx="243.74" cy="163.65" r="5.1" fill="#fff" stroke="#0000ff" stroke-width="1.4"/><path d="M238.64 163.65a5.1 5.1 0 0 0 10.2 0z" fill="#0000ff"/>
<circle cx="253.62" cy="159.3" r="5.1" fill="#fff" stroke="#0000ff" stroke-width="1.4"/><path d="M248.52 159.3a5.1 5.1 0 0 0 10.2 0z" fill="#0000ff"/>
<circle cx="263.48" cy="154.89" r="5.1" fill="#fff" stroke="#0000ff" stroke-width="1.4"/><path d="M258.38 154.89a5.1 5.1 0 0 0 10.2 0z" fill="#0000ff"/>
<circle cx="278" cy="145.5" r="5.1" fill="#fff" stroke="#0000ff" stroke-width="1.4"/><path d="M272.9 145.5a5.1 5.1 0 0 0 10.2 0z" fill="#0000ff"/>
<circle cx="297.5" cy="133" r="5.1" fill="#fff" stroke="#0000ff" stroke-width="1.4"/><path d="M292.4 133a5.1 5.1 0 0 0 10.2 0z" fill="#0000ff"/>
<circle cx="61" cy="235.3" r="5.5" fill="#fff" stroke="#0000ff" stroke-width="1.4"/><path d="M55.5 235.3a5.5 5.5 0 0 0 11 0z" fill="#0000ff"/>
<circle cx="78.09" cy="230.35" r="5.5" fill="#fff" stroke="#0000ff" stroke-width="1.4"/><path d="M72.59 230.35a5.5 5.5 0 0 0 11 0z" fill="#0000ff"/>
<circle cx="88.14" cy="226.39" r="5.5" fill="#fff" stroke="#0000ff" stroke-width="1.4"/><path d="M82.64 226.39a5.5 5.5 0 0 0 11 0z" fill="#0000ff"/>
<circle cx="98.18" cy="222.41" r="5.5" fill="#fff" stroke="#0000ff" stroke-width="1.4"/><path d="M92.68 222.41a5.5 5.5 0 0 0 11 0z" fill="#0000ff"/>
<circle cx="108.22" cy="218.44" r="5.5" fill="#fff" stroke="#0000ff" stroke-width="1.4"/><path d="M102.72 218.44a5.5 5.5 0 0 0 11 0z" fill="#0000ff"/>
<circle cx="118.27" cy="214.47" r="5.5" fill="#fff" stroke="#0000ff" stroke-width="1.4"/><path d="M112.77 214.47a5.5 5.5 0 0 0 11 0z" fill="#0000ff"/>
<circle cx="128.31" cy="210.49" r="5.5" fill="#fff" stroke="#0000ff" stroke-width="1.4"/><path d="M122.81 210.49a5.5 5.5 0 0 0 11 0z" fill="#0000ff"/>
<circle cx="138.35" cy="206.52" r="5.5" fill="#fff" stroke="#0000ff" stroke-width="1.4"/><path d="M132.85 206.52a5.5 5.5 0 0 0 11 0z" fill="#0000ff"/>
<circle cx="148.39" cy="202.55" r="5.5" fill="#fff" stroke="#0000ff" stroke-width="1.4"/><path d="M142.89 202.55a5.5 5.5 0 0 0 11 0z" fill="#0000ff"/>
<circle cx="158.44" cy="198.57" r="5.5" fill="#fff" stroke="#0000ff" stroke-width="1.4"/><path d="M152.94 198.57a5.5 5.5 0 0 0 11 0z" fill="#0000ff"/>
<circle cx="168.48" cy="194.6" r="5.5" fill="#fff" stroke="#0000ff" stroke-width="1.4"/><path d="M162.98 194.6a5.5 5.5 0 0 0 11 0z" fill="#0000ff"/>
<circle cx="178.52" cy="190.62" r="5.5" fill="#fff" stroke="#0000ff" stroke-width="1.4"/><path d="M173.02 190.62a5.5 5.5 0 0 0 11 0z" fill="#0000ff"/>
<circle cx="188.56" cy="186.65" r="5.5" fill="#fff" stroke="#0000ff" stroke-width="1.4"/><path d="M183.06 186.65a5.5 5.5 0 0 0 11 0z" fill="#0000ff"/>
<circle cx="198.61" cy="182.68" r="5.5" fill="#fff" stroke="#0000ff" stroke-width="1.4"/><path d="M193.11 182.68a5.5 5.5 0 0 0 11 0z" fill="#0000ff"/>
<circle cx="208.65" cy="178.7" r="5.5" fill="#fff" stroke="#0000ff" stroke-width="1.4"/><path d="M203.15 178.7a5.5 5.5 0 0 0 11 0z" fill="#0000ff"/>
<circle cx="218.69" cy="174.73" r="5.5" fill="#fff" stroke="#0000ff" stroke-width="1.4"/><path d="M213.19 174.73a5.5 5.5 0 0 0 11 0z" fill="#0000ff"/>
<circle cx="228.73" cy="170.76" r="5.5" fill="#fff" stroke="#0000ff" stroke-width="1.4"/><path d="M223.23 170.76a5.5 5.5 0 0 0 11 0z" fill="#0000ff"/>
<circle cx="238.78" cy="166.78" r="5.5" fill="#fff" stroke="#0000ff" stroke-width="1.4"/><path d="M233.28 166.78a5.5 5.5 0 0 0 11 0z" fill="#0000ff"/>
<circle cx="248.68" cy="162.47" r="5.5" fill="#fff" stroke="#0000ff" stroke-width="1.4"/><path d="M243.18 162.47a5.5 5.5 0 0 0 11 0z" fill="#0000ff"/>
<circle cx="258.56" cy="158.12" r="5.5" fill="#fff" stroke="#0000ff" stroke-width="1.4"/><path d="M253.06 158.12a5.5 5.5 0 0 0 11 0z" fill="#0000ff"/>
<circle cx="268.35" cy="153.55" r="5.5" fill="#fff" stroke="#0000ff" stroke-width="1.4"/><path d="M262.85 153.55a5.5 5.5 0 0 0 11 0z" fill="#0000ff"/>
<circle cx="283.4" cy="142.2" r="5.5" fill="#fff" stroke="#0000ff" stroke-width="1.4"/><path d="M277.9 142.2a5.5 5.5 0 0 0 11 0z" fill="#0000ff"/>
<circle cx="292" cy="136.6" r="5.5" fill="#fff" stroke="#0000ff" stroke-width="1.4"/><path d="M286.5 136.6a5.5 5.5 0 0 0 11 0z" fill="#0000ff"/>
<circle cx="303.1" cy="130.4" r="5.5" fill="#fff" stroke="#0000ff" stroke-width="1.4"/><path d="M297.6 130.4a5.5 5.5 0 0 0 11 0z" fill="#0000ff"/>
<circle cx="311.7" cy="123.6" r="5.5" fill="#fff" stroke="#0000ff" stroke-width="1.4"/><path d="M306.2 123.6a5.5 5.5 0 0 0 11 0z" fill="#0000ff"/>
<circle cx="314.2" cy="118.2" r="5.5" fill="#fff" stroke="#0000ff" stroke-width="1.4"/><path d="M308.7 118.2a5.5 5.5 0 0 0 11 0z" fill="#0000ff"/>
<circle cx="323.8" cy="84.8" r="5.5" fill="#fff" stroke="#0000ff" stroke-width="1.4"/><path d="M318.3 84.8a5.5 5.5 0 0 0 11 0z" fill="#0000ff"/>
</g>
<g id="circuit">
<g stroke="#333" stroke-width="1.25" fill="none">
<path d="M530.3 61.5H565.3M605.3 61.5H620.8M620.8 45.5V76M620.8 45.5H668.8M676 45.5H704.4M668.8 39V53.4M676 39V53.4M704.4 45.5V76M704.4 61.6H733.9M620.8 76H636.6M660.6 76H677.3M686.3 76H704.4"/>
<rect x="565.3" y="54" width="40" height="14.8"/>
<rect x="636.6" y="72.7" width="24" height="7.3"/>
</g>
<g font-family="Liberation Serif" font-size="9.2" fill="#2a2a2a">
<text x="542.9" y="57.4">Rs</text>
<text x="668" y="36.3">Cd</text>
<text x="643" y="68.3">Ret</text>
<text x="672.8" y="68.3">Zw</text>
</g>
<text x="676.8" y="81.6" font-family="Liberation Sans" font-size="10" fill="#2a2a2a" stroke="#2a2a2a" stroke-width="0.25">W</text>

</g>
<g id="axes">
<rect x="55.3" y="13.7" width="298.9" height="236.5" fill="none" stroke="#82168c" stroke-width="1.9"/>
<rect x="425.8" y="9.3" width="308.1" height="239.9" fill="none" stroke="#82168c" stroke-width="1.9"/>
<path d="M50.3 240.3H55.3M52.5 221.42H55.3M50.3 202.53H55.3M52.5 183.65H55.3M50.3 164.76H55.3M52.5 145.88H55.3M50.3 126.99H55.3M52.5 108.11H55.3M50.3 89.22H55.3M52.5 70.34H55.3M50.3 51.45H55.3M52.5 32.56H55.3M50.3 13.68H55.3M55.3 250.2V255.2M82.44 250.2V253M109.58 250.2V255.2M136.72 250.2V253M163.86 250.2V255.2M191 250.2V253M218.14 250.2V255.2M245.28 250.2V253M272.42 250.2V255.2M299.56 250.2V253M326.7 250.2V255.2M353.84 250.2V253M420.8 249.2H425.8M423 225.21H425.8M420.8 201.22H425.8M423 177.23H425.8M420.8 153.24H425.8M423 129.25H425.8M420.8 105.26H425.8M423 81.27H425.8M420.8 57.28H425.8M423 33.29H425.8M420.8 9.3H425.8M425.8 249.2V254.2M456.61 249.2V252M487.42 249.2V254.2M518.23 249.2V252M549.04 249.2V254.2M579.85 249.2V252M610.66 249.2V254.2M641.47 249.2V252M672.28 249.2V254.2M703.09 249.2V252M733.9 249.2V254.2" stroke="#5e0f60" stroke-width="1.7" fill="none"/>
<text x="47.3" y="243.8" text-anchor="end" font-family="Liberation Sans" font-weight="bold" font-size="13.6" fill="#700070" stroke="#700070" stroke-width="0.3">0</text>
<text x="47.3" y="206.03" text-anchor="end" font-family="Liberation Sans" font-weight="bold" font-size="13.6" fill="#700070" stroke="#700070" stroke-width="0.3">10</text>
<text x="47.3" y="168.26" text-anchor="end" font-family="Liberation Sans" font-weight="bold" font-size="13.6" fill="#700070" stroke="#700070" stroke-width="0.3">20</text>
<text x="47.3" y="130.49" text-anchor="end" font-family="Liberation Sans" font-weight="bold" font-size="13.6" fill="#700070" stroke="#700070" stroke-width="0.3">30</text>
<text x="47.3" y="92.72" text-anchor="end" font-family="Liberation Sans" font-weight="bold" font-size="13.6" fill="#700070" stroke="#700070" stroke-width="0.3">40</text>
<text x="47.3" y="54.95" text-anchor="end" font-family="Liberation Sans" font-weight="bold" font-size="13.6" fill="#700070" stroke="#700070" stroke-width="0.3">50</text>
<text x="47.3" y="17.18" text-anchor="end" font-family="Liberation Sans" font-weight="bold" font-size="13.6" fill="#700070" stroke="#700070" stroke-width="0.3">60</text>
<text x="55.3" y="267.8" text-anchor="middle" font-family="Liberation Sans" font-weight="bold" font-size="13.6" fill="#700070" stroke="#700070" stroke-width="0.3">0.0</text>
<text x="109.58" y="267.8" text-anchor="middle" font-family="Liberation Sans" font-weight="bold" font-size="13.6" fill="#700070" stroke="#700070" stroke-width="0.3">0.2</text>
<text x="163.86" y="267.8" text-anchor="middle" font-family="Liberation Sans" font-weight="bold" font-size="13.6" fill="#700070" stroke="#700070" stroke-width="0.3">0.4</text>
<text x="218.14" y="267.8" text-anchor="middle" font-family="Liberation Sans" font-weight="bold" font-size="13.6" fill="#700070" stroke="#700070" stroke-width="0.3">0.6</text>
<text x="272.42" y="267.8" text-anchor="middle" font-family="Liberation Sans" font-weight="bold" font-size="13.6" fill="#700070" stroke="#700070" stroke-width="0.3">0.8</text>
<text x="326.7" y="267.8" text-anchor="middle" font-family="Liberation Sans" font-weight="bold" font-size="13.6" fill="#700070" stroke="#700070" stroke-width="0.3">1.0</text>
<text x="417.3" y="252.7" text-anchor="end" font-family="Liberation Sans" font-weight="bold" font-size="13.6" fill="#700070" stroke="#700070" stroke-width="0.3">0</text>
<text x="417.3" y="204.72" text-anchor="end" font-family="Liberation Sans" font-weight="bold" font-size="13.6" fill="#700070" stroke="#700070" stroke-width="0.3">-10</text>
<text x="417.3" y="156.74" text-anchor="end" font-family="Liberation Sans" font-weight="bold" font-size="13.6" fill="#700070" stroke="#700070" stroke-width="0.3">-20</text>
<text x="417.3" y="108.76" text-anchor="end" font-family="Liberation Sans" font-weight="bold" font-size="13.6" fill="#700070" stroke="#700070" stroke-width="0.3">-30</text>
<text x="417.3" y="60.78" text-anchor="end" font-family="Liberation Sans" font-weight="bold" font-size="13.6" fill="#700070" stroke="#700070" stroke-width="0.3">-40</text>
<text x="417.3" y="12.8" text-anchor="end" font-family="Liberation Sans" font-weight="bold" font-size="13.6" fill="#700070" stroke="#700070" stroke-width="0.3">-50</text>
<text x="425.8" y="267" text-anchor="middle" font-family="Liberation Sans" font-weight="bold" font-size="13.6" fill="#700070" stroke="#700070" stroke-width="0.3">0</text>
<text x="487.42" y="267" text-anchor="middle" font-family="Liberation Sans" font-weight="bold" font-size="13.6" fill="#700070" stroke="#700070" stroke-width="0.3">10</text>
<text x="549.04" y="267" text-anchor="middle" font-family="Liberation Sans" font-weight="bold" font-size="13.6" fill="#700070" stroke="#700070" stroke-width="0.3">20</text>
<text x="610.66" y="267" text-anchor="middle" font-family="Liberation Sans" font-weight="bold" font-size="13.6" fill="#700070" stroke="#700070" stroke-width="0.3">30</text>
<text x="672.28" y="267" text-anchor="middle" font-family="Liberation Sans" font-weight="bold" font-size="13.6" fill="#700070" stroke="#700070" stroke-width="0.3">40</text>
<text x="733.9" y="267" text-anchor="middle" font-family="Liberation Sans" font-weight="bold" font-size="13.6" fill="#700070" stroke="#700070" stroke-width="0.3">50</text>
<text transform="translate(22.6,223.6) rotate(-90)" font-family="Liberation Serif" font-weight="bold" fill="#800080" font-size="19.5" textLength="200" lengthAdjust="spacingAndGlyphs">Quantity Adsorbed(cm<tspan font-size="14.5" dy="-9.5">3</tspan><tspan dy="9.5">/g)</tspan></text>
<text x="103.3" y="286.8" font-family="Liberation Serif" font-weight="bold" fill="#800080" font-size="18">Relative pressure</text>
<text x="237.6" y="287.2" font-family="Liberation Serif" font-weight="bold" font-size="12" fill="#3a2a3a">(</text>
<text x="241.6" y="286.4" font-family="Liberation Serif" font-weight="bold" font-size="12" fill="#800080">P</text>
<text x="249.3" y="286.4" font-family="Liberation Serif" font-weight="bold" font-size="12" fill="#800080">/</text>
<text x="253.9" y="286.4" font-family="Liberation Serif" font-weight="bold" font-size="12" fill="#800080">P</text>
<text x="261.6" y="290.2" font-family="Liberation Serif" font-weight="bold" font-size="12" fill="#800080">0</text>
<text x="268.5" y="287.2" font-family="Liberation Serif" font-weight="bold" font-size="12" fill="#3a2a3a">)</text>
<text transform="translate(385.3,158.3) rotate(-90)" font-family="Liberation Serif" font-weight="bold" fill="#800080" font-size="18.5" textLength="54" lengthAdjust="spacingAndGlyphs">-Z''/k&#937;</text>
<text x="552.6" y="287.2" font-family="Liberation Serif" font-weight="bold" fill="#800080" font-size="17" textLength="45.3" lengthAdjust="spacingAndGlyphs">Z'/k&#937;</text>
<text x="65.5" y="48.5" font-family="Liberation Serif" font-weight="bold" font-size="37" fill="#f00">A</text>
<text x="438.8" y="46.6" font-family="Liberation Serif" font-weight="bold" font-size="37" fill="#f00">B</text>
<text x="333" y="74.9" font-family="Liberation Serif" font-weight="bold" font-size="20.5" fill="#000">c</text>
<text x="192.5" y="163.6" font-family="Liberation Serif" font-weight="bold" font-size="20" fill="#000">b</text>
<text x="334" y="223.2" font-family="Liberation Serif" font-weight="bold" font-size="20" fill="#000">a</text>
<text x="474.5" y="58.7" font-family="Liberation Serif" font-weight="bold" font-size="20" fill="#000">a</text>
<text x="559.7" y="32" font-family="Liberation Serif" font-weight="bold" font-size="20" fill="#000">b</text>
<text x="592.6" y="132.3" font-family="Liberation Serif" font-weight="bold" font-size="20" fill="#000">c</text>
<text x="712.6" y="188.6" font-family="Liberation Serif" font-weight="bold" font-size="19" fill="#000">d</text>
</g>
</svg>
</body></html>
